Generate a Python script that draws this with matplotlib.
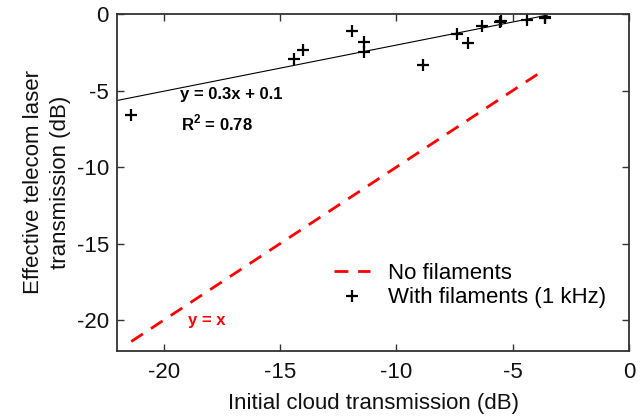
import numpy as np
import matplotlib
matplotlib.use("Agg")
from matplotlib import pyplot as plt

plt.rcParams['font.family'] = ['Liberation Sans', 'DejaVu Sans']
plt.rcParams['axes.unicode_minus'] = False
plt.rcParams['mathtext.fontset'] = 'custom'
plt.rcParams['mathtext.bf'] = 'Liberation Sans:bold'
plt.rcParams['mathtext.rm'] = 'Liberation Sans'

# measured points (dB)
cloud_db = [-21.4, -14.4, -14.0, -11.9, -11.4, -11.4, -8.86, -7.4, -6.9,
            -6.3, -5.56, -5.5, -4.4, -3.6, -3.6]
telecom_db = [-6.62, -2.94, -2.33, -1.07, -1.83, -2.44, -3.31, -1.31, -1.85,
              -0.76, -0.54, -0.44, -0.41, -0.15, -0.25]

ref_x = [-21.4, -3.6]   # y = x reference (no filaments)
fit_x = [-22.0, -3.5]
fit_label = 'y = 0.3x + 0.1'
r2_label = r'R$^{\mathbf{2}}$ = 0.78'

fig = plt.figure(figsize=(6.41, 4.18), dpi=100)
ax = fig.add_axes([0.183, 0.161, 0.798, 0.805])

# linear fit through the points
p = np.polyfit(cloud_db, telecom_db, 1)
ax.plot(fit_x, np.polyval(p, fit_x), color='black', lw=0.8)

ax.plot(ref_x, ref_x, color='red', lw=2, ls=(0, (5, 3.5)), label='No filaments')
ax.plot(cloud_db, telecom_db, ls='none', marker='+', color='black', ms=8, mew=1.6,
        label='With filaments (1 kHz)')

ax.text(-19.3, -5.28, fit_label, fontsize=12, fontweight='bold', va='center')
ax.text(-19.25, -7.11, r2_label, fontsize=12, fontweight='bold', va='center')
ax.text(-18.95, -20.0, 'y = x', fontsize=12, fontweight='bold', color='red', va='center')

ax.set_xlim(-22, 0)
ax.set_ylim(-22, 0)
ax.set_xticks([-20, -15, -10, -5, 0])
ax.set_yticks([-20, -15, -10, -5, 0])
ax.tick_params(direction='in', top=True, right=True, length=5, width=1,
               labelsize=16, colors='#333333', labelcolor='#111111')
ax.tick_params(axis='x', pad=8)
ax.tick_params(axis='y', pad=6)
for s in ax.spines.values():
    s.set_linewidth(1.3)
    s.set_color('#333333')

ax.set_xlabel('Initial cloud transmission (dB)', fontsize=16, color='#111111', labelpad=7)
ax.set_ylabel('Effective telecom laser\ntransmission (dB)', fontsize=16, color='#111111',
              labelpad=4, linespacing=1.4)

ax.legend(loc='lower right', frameon=False, fontsize=16, handlelength=1.6,
          handletextpad=0.85, borderaxespad=0.6, labelspacing=0.15,
          bbox_to_anchor=(1.0, 0.06))

fig.savefig('out.png', dpi=100)
